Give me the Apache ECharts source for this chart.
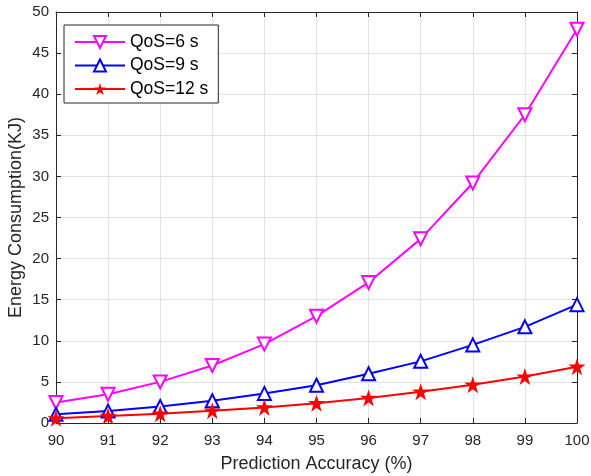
<!DOCTYPE html>
<html><head><meta charset="utf-8">
<script src="https://cdn.jsdelivr.net/npm/echarts@6/dist/echarts.min.js"></script>
<style>html,body{margin:0;padding:0;background:#fff}#c{width:591px;height:476px}</style>
</head><body><div id="c"></div>
<script>
const categories = [90, 91, 92, 93, 94, 95, 96, 97, 98, 99, 100];
const qos6 = [2.5, 3.5, 5.0, 7.0, 9.6, 13.0, 17.1, 22.4, 29.2, 37.5, 47.9];
const qos9 = [1.05, 1.45, 2.0, 2.7, 3.6, 4.6, 6.0, 7.5, 9.5, 11.7, 14.4];
const qos12 = [0.57, 0.85, 1.13, 1.5, 1.9, 2.4, 3.05, 3.8, 4.65, 5.65, 6.85];
const seriesNames = ['QoS=6 s', 'QoS=9 s', 'QoS=12 s'];
const yTicks = [0, 5, 10, 15, 20, 25, 30, 35, 40, 45, 50];

const star = 'path://M50,0 L61.8,35.4 L100,35.4 L69.1,57.3 L80.9,95.1 L50,72.4 L19.1,95.1 L30.9,57.3 L0,35.4 L38.2,35.4 Z';
const font = 'Liberation Sans, Arial, sans-serif';
const chart = echarts.init(document.getElementById('c'));
function pairs(arr){ return categories.map((c,i)=>[c, arr[i]]); }
const axisCommon = {
  axisLine:{show:true, onZero:false, lineStyle:{color:'#262626', width:1}},
  axisTick:{show:true, inside:true, length:5, lineStyle:{color:'#262626'}},
};
chart.setOption({
  animation:false,
  backgroundColor:'#fff',
  grid:{left:56, right:14, top:12, bottom:53, containLabel:false, outerBoundsMode:'none'},
  legend:{
    left:64, top:25, orient:'vertical',
    padding:[8,10,5,10], itemGap:5.5,
    backgroundColor:'#fff', borderColor:'#262626', borderWidth:1,
    itemWidth:50, itemHeight:15,
    textStyle:{fontFamily:font, fontSize:17.5, color:'#000'},
    data:seriesNames
  },
  xAxis:[{
    type:'value', min:90, max:100, interval:1,
    name:'Prediction Accuracy (%)', nameLocation:'middle', nameGap:32, nameMoveOverlap:false,
    nameTextStyle:{fontFamily:font, fontSize:18, color:'#262626'},
    axisLabel:{fontFamily:font, fontSize:15, color:'#262626', margin:10},
    splitLine:{show:true, lineStyle:{color:'#e3e3e3'}},
    ...axisCommon
  },{
    type:'value', min:90, max:100, interval:1, position:'top',
    axisLabel:{show:false}, splitLine:{show:false}, ...axisCommon
  }],
  yAxis:[{
    type:'value', min:0, max:50, interval:5,
    name:'Energy Consumption(KJ)', nameLocation:'middle', nameGap:31, nameMoveOverlap:false,
    nameTextStyle:{fontFamily:font, fontSize:18, color:'#262626'},
    axisLabel:{fontFamily:font, fontSize:15, color:'#262626', margin:7,
      formatter:v=> yTicks.includes(v) ? String(v) : ''},
    splitLine:{show:true, lineStyle:{color:'#e3e3e3'}},
    ...axisCommon
  },{
    type:'value', min:0, max:50, interval:5, position:'right',
    axisLabel:{show:false}, splitLine:{show:false}, ...axisCommon
  }],
  series:[
    {name:seriesNames[0], type:'line', data:pairs(qos6), symbol:'emptyTriangle', symbolRotate:180, symbolSize:13,
      lineStyle:{color:'#ff00ff', width:2}, itemStyle:{color:'#ff00ff', borderWidth:1.8}, z:3},
    {name:seriesNames[1], type:'line', data:pairs(qos9), symbol:'emptyTriangle', symbolSize:13,
      lineStyle:{color:'#0000ff', width:2}, itemStyle:{color:'#0000ff', borderWidth:1.8}, z:3},
    {name:seriesNames[2], type:'line', data:pairs(qos12), symbol:star, symbolSize:17,
      lineStyle:{color:'#ff0000', width:2}, itemStyle:{color:'#ff0000'}, z:3}
  ]
});
</script></body></html>
